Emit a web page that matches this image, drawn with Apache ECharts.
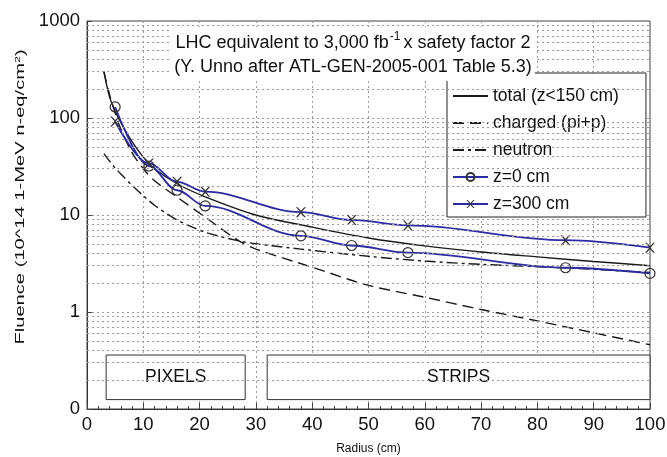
<!DOCTYPE html>
<html>
<head>
<meta charset="utf-8">
<script src="https://cdn.jsdelivr.net/npm/echarts@6/dist/echarts.min.js"></script>
<style>
  html, body { margin: 0; padding: 0; background: #fff; }
  #main { width: 667px; height: 457px; }
</style>
</head>
<body>
<div id="main"></div>
<script>
// radius (cm) / fluence (10^14 1-MeV n-eq/cm2)
const totalR = [3, 4, 5, 6, 8, 10, 12, 16, 21, 30, 40, 50, 60, 70, 80, 90, 100];
const totalF = [300, 165, 118, 90, 57, 39.5, 30, 21, 15.4, 10, 7.5, 5.8, 4.8, 4.15, 3.7, 3.32, 3.0];

const chargedR = [3, 4, 5, 6, 8, 10, 12, 16, 21, 27, 30, 40, 50, 60, 70, 80, 90, 100];
const chargedF = [300, 175, 112, 77, 44, 30, 22.5, 15.3, 9.5, 5.4, 4.45, 2.9, 1.88, 1.42, 1.06, 0.81, 0.61, 0.46];

const neutronR = [3, 4, 5, 6.5, 8, 10, 12, 15, 18, 21.5, 27, 30, 38, 50, 60, 70, 85, 100];
const neutronF = [43, 36, 30.5, 24.8, 20.2, 15.8, 12.6, 9.6, 7.8, 6.5, 5.4, 5.05, 4.45, 3.75, 3.35, 3.1, 2.85, 2.55];

const pointR = [5, 11, 16, 21, 38, 47, 57, 85, 100];
const z0F = [130, 32, 18, 12.4, 6.1, 4.85, 4.1, 2.86, 2.5];
const z300F = [92, 34, 22, 17.4, 10.7, 8.9, 7.8, 5.5, 4.6];

const yTicks = [0.1, 1, 10, 100, 1000];
const yTickLabels = ['0', '1', '10', '100', '1000'];

// detector regions drawn as labelled boxes near the bottom
const regions = [
  { name: 'PIXELS', r: [3.4, 28.1], f: [0.36, 0.125] },
  { name: 'STRIPS', r: [32, 100], f: [0.36, 0.125] }
];

const pairs = (xs, ys) => xs.map((x, i) => [x, ys[i]]);

const minorGrid = [];
[0.1, 1, 10, 100].forEach(d => {
  for (let k = 2; k <= 9; k++) minorGrid.push(+(k * d).toPrecision(3));
});

const font = 'Liberation Sans, Arial, sans-serif';
const blue = '#2b2ba3';
const black = '#1a1a1a';
const xMark = 'path://M0,0 L1.6,0 L5,3.6 L8.4,0 L10,0 L5.9,4.6 L5.9,5.4 L10,10 L8.4,10 L5,6.4 L1.6,10 L0,10 L4.1,5.4 L4.1,4.6 Z';

const chart = echarts.init(document.getElementById('main'), null, { renderer: 'canvas' });

const noMarker = { opacity: 0 };

const option = {
  backgroundColor: '#fff',
  animation: false,
  textStyle: { fontFamily: font },
  title: {
    text: 'LHC equivalent to 3,000 fb{sup|-1}x safety factor 2\n(Y. Unno after ATL-GEN-2005-001 Table 5.3)',
    left: 350,
    top: 27,
    textAlign: 'center',
    backgroundColor: '#fff',
    padding: [4, 3, 2, 3],
    textStyle: {
      fontFamily: font,
      fontSize: 18,
      fontWeight: 'normal',
      color: '#111',
      lineHeight: 24,
      rich: {
        sup: { fontSize: 12, verticalAlign: 'top', lineHeight: 24, fontFamily: font, color: '#111', padding: [0, 3, 6, 1] }
      }
    }
  },
  // y axis title, stretched along its length like the source figure
  graphic: [{
    type: 'text',
    x: 20,
    y: 197,
    rotation: Math.PI / 2,
    scaleX: 1.55,
    silent: true,
    style: {
      text: 'Fluence (10^14 1-MeV n-eq/cm{sup|2})',
      fontFamily: font,
      fontSize: 13,
      fill: '#111',
      align: 'center',
      verticalAlign: 'middle',
      rich: { sup: { fontSize: 8, verticalAlign: 'top', fontFamily: font, fill: '#111' } }
    }
  }],
  legend: {
    orient: 'vertical',
    left: 447,
    top: 73,
    padding: [14, 27, 4, 5],
    itemWidth: 35,
    itemHeight: 10,
    itemGap: 9,
    borderColor: '#222',
    borderWidth: 1,
    backgroundColor: '#fff',
    textStyle: { fontFamily: font, fontSize: 17.5, color: '#111' },
    data: [
      { name: 'total (z<150 cm)', itemStyle: noMarker },
      { name: 'charged (pi+p)', itemStyle: noMarker },
      { name: 'neutron', itemStyle: noMarker },
      { name: 'z=0 cm' },
      { name: 'z=300 cm' }
    ]
  },
  grid: {
    left: 87, right: 17, top: 21, bottom: 48,
    outerBoundsMode: 'none',
    show: true, borderColor: '#444', borderWidth: 1
  },
  xAxis: {
    type: 'value',
    min: 0, max: 100, interval: 10,
    name: 'Radius (cm)',
    nameLocation: 'middle',
    nameGap: 34,
    nameTextStyle: { fontFamily: font, fontSize: 12, color: '#111' },
    axisLine: { lineStyle: { color: '#333' } },
    axisTick: { inside: true, length: 6, lineStyle: { color: '#444' } },
    minorTick: { show: true, splitNumber: 5, length: 3, lineStyle: { color: '#444' } },
    axisLabel: { fontFamily: font, fontSize: 18.5, color: '#111', margin: 6 },
    splitLine: { show: true, lineStyle: { type: [2, 3], color: '#9a9a9a' } }
  },
  yAxis: {
    type: 'log',
    logBase: 10,
    min: 0.1, max: 1000,
    axisLine: { show: true, lineStyle: { color: '#333' } },
    axisTick: { show: true, inside: true, length: 5, lineStyle: { color: '#444' } },
    axisLabel: {
      fontFamily: font, fontSize: 18.5, color: '#111', margin: 7,
      formatter: v => {
        const i = yTicks.findIndex(t => Math.abs(Math.log10(t) - Math.log10(v)) < 1e-6);
        return i >= 0 ? yTickLabels[i] : '';
      }
    },
    splitLine: { show: true, lineStyle: { type: [2, 3], color: '#9a9a9a' } }
  },
  series: [
    {
      name: 'grid-minor',
      type: 'line',
      data: [],
      z: 1,
      silent: true,
      markLine: {
        silent: true,
        symbol: 'none',
        label: { show: false },
        lineStyle: { type: [2, 3], color: '#9a9a9a', width: 1 },
        data: minorGrid.map(v => ({ yAxis: v }))
      },
      markArea: {
        silent: true,
        itemStyle: { color: '#fff', borderColor: '#333', borderWidth: 1 },
        label: { show: true, position: 'inside', fontFamily: font, fontSize: 17.5, color: '#111' },
        data: regions.map(g => [
          { name: g.name, xAxis: g.r[0], yAxis: g.f[0] },
          { xAxis: g.r[1], yAxis: g.f[1] }
        ])
      }
    },
    {
      name: 'total (z<150 cm)',
      type: 'line',
      data: pairs(totalR, totalF),
      smooth: 0.3,
      showSymbol: false, symbol: 'none',
      lineStyle: { color: black, width: 1.4 },
      itemStyle: { color: black }
    },
    {
      name: 'charged (pi+p)',
      type: 'line',
      data: pairs(chargedR, chargedF),
      smooth: 0.3,
      showSymbol: false, symbol: 'none',
      lineStyle: { color: black, width: 1.4, type: [11, 6] },
      itemStyle: { color: black }
    },
    {
      name: 'neutron',
      type: 'line',
      data: pairs(neutronR, neutronF),
      smooth: 0.3,
      showSymbol: false, symbol: 'none',
      lineStyle: { color: black, width: 1.4, type: [11, 4, 3, 4] },
      itemStyle: { color: black }
    },
    {
      name: 'z=0 cm',
      type: 'line',
      data: pairs(pointR, z0F),
      smooth: 0.35, smoothMonotone: 'x',
      symbol: 'circle', symbolSize: 10,
      lineStyle: { color: blue, width: 1.8 },
      itemStyle: { color: 'rgba(255,255,255,0)', borderColor: '#333', borderWidth: 1.2 }
    },
    {
      name: 'z=300 cm',
      type: 'line',
      data: pairs(pointR, z300F),
      smooth: 0.35, smoothMonotone: 'x',
      symbol: xMark, symbolSize: 10,
      lineStyle: { color: blue, width: 1.8 },
      itemStyle: { color: '#333' }
    }
  ]
};

chart.setOption(option);
</script>
</body>
</html>
